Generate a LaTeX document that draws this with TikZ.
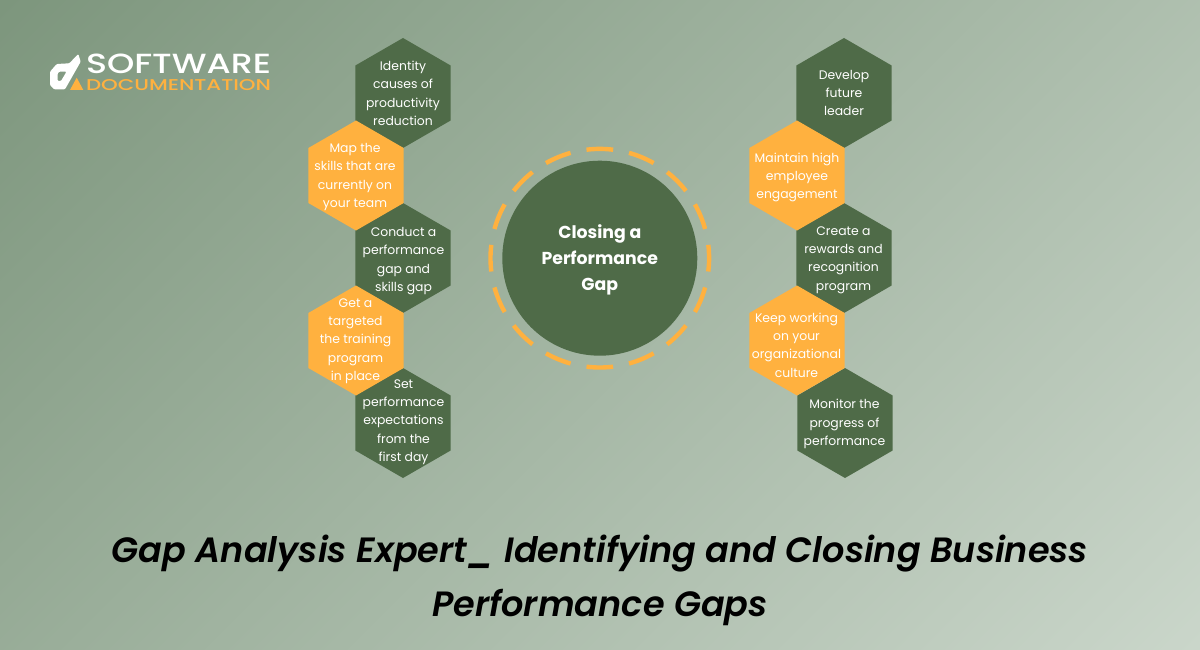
\documentclass[tikz,border=0pt]{standalone}
\usepackage{fontspec}
\usetikzlibrary{shapes.geometric,calc}
\setmainfont{Poppins}
\newfontfamily\popmed{Poppins Medium}
\newfontfamily\popbold{Poppins Bold}
\newfontfamily\popsemiit{Poppins SemiBold Italic}
\definecolor{hexgreen}{HTML}{4F6B48}
\definecolor{hexorange}{HTML}{FFB13F}
\definecolor{bgstart}{HTML}{7D967D}
\definecolor{bgend}{HTML}{CAD6CA}
\tikzset{
  hexcell/.style={regular polygon,regular polygon sides=6,shape border rotate=30,minimum size=110pt,inner sep=0pt,outer sep=0pt,draw=none},
  greenhex/.style={hexcell,fill=hexgreen},
  orangehex/.style={hexcell,fill=hexorange},
  hextext/.style={text=white,align=center,inner sep=0pt,font=\rmfamily\fontsize{12.4}{18.3}\selectfont},
  ringdash/.style={draw=hexorange,line width=4.4pt},
  hubtext/.style={text=white,align=center,inner sep=0pt,font=\popbold\fontsize{17.3}{26.3}\selectfont},
  titletext/.style={text=black,anchor=base,inner sep=0pt,font=\popsemiit\fontsize{35.1}{54}\selectfont},
  logotext/.style={anchor=south west,inner sep=0pt,outer sep=0pt}
}
\begin{document}
\begin{tikzpicture}[x=1pt,y=-1pt]
\useasboundingbox (0,0) rectangle (1200,650);
\begin{scope}
\clip (0,0) rectangle (1200,650);
\shade[top color=bgstart,bottom color=bgend,shading angle=45] (-54,-329) rectangle (1254,979);
\end{scope}
% logo
\fill[white,rounded corners=1pt,even odd rule]
  (78.3,54) -- (80.7,61.7) -- (65,89.3) -- (54,89.3) -- (50,85) -- (50,71.7) -- (56.7,64) -- (69.3,63.3) -- cycle
  (59,71.7) -- (66.5,71.7) -- (61,81) -- (57.5,81) -- (57.5,74) -- cycle;
\fill[hexorange] (70,90) -- (83.3,90) -- (76.7,77.7) -- cycle;
\node[logotext,text=white] (logoa) at (86,74) {\resizebox{185pt}{19.5pt}{\popmed SOFTWARE}};
\node[logotext,text=hexorange] (logob) at (86,90.5) {\resizebox{185pt}{11pt}{\popmed DOCUMENTATION}};
% hub
\node[circle,fill=hexgreen,minimum size=195pt,inner sep=0pt,outer sep=0pt] (hub) at (599.8,258.2) {};
\foreach \a in {0,22.5,...,337.5}
  \draw[ringdash] ($(hub.center)+(\a-7:109.3pt)$) arc[start angle=\a-7,end angle=\a+7,radius=109.3pt];
\node[hubtext] (hubt) at (599.8,260) {Closing a\\Performance\\Gap};
% left
\node[greenhex] (l1) at (403,93) {};
\node[greenhex] (l3) at (403,258) {};
\node[greenhex] (l5) at (403,423) {};
\node[orangehex] (l2) at (356,175.5) {};
\node[orangehex] (l4) at (356,340.5) {};
\node[hextext] (lt1) at (403,93.3) {Identity\\causes of\\productivity\\reduction};
\node[hextext] (lt2) at (355,177) {Map the\\skills that are\\currently on\\your team};
\node[hextext] (lt3) at (403.5,261) {Conduct a\\performance\\gap and\\skills gap};
\node[hextext] (lt4) at (355.5,341) {Get a\\targeted\\the training\\program\\in place};
\node[hextext] (lt5) at (403.5,422) {Set\\performance\\expectations\\from the\\first day};
% right
\node[greenhex] (r1) at (844,93) {};
\node[greenhex] (r3) at (844,258) {};
\node[greenhex] (r5) at (845,423) {};
\node[orangehex] (r2) at (797,175.5) {};
\node[orangehex] (r4) at (797,340.5) {};
\node[hextext] (rt1) at (844,92.8) {Develop\\future\\leader};
\node[hextext] (rt2) at (797,177.5) {Maintain high\\employee\\engagement};
\node[hextext] (rt3) at (843.5,260) {Create a\\rewards and\\recognition\\program};
\node[hextext] (rt4) at (796.5,345) {Keep working\\on your\\organizational\\culture};
\node[hextext] (rt5) at (844.5,424) {Monitor the\\progress of\\performance};
% title
\node[titletext] (ttla) at (600,562.5) {Gap Analysis Expert\_ Identifying and Closing Business};
\node[titletext] (ttlb) at (600,616.5) {Performance Gaps};
\end{tikzpicture}
\end{document}
